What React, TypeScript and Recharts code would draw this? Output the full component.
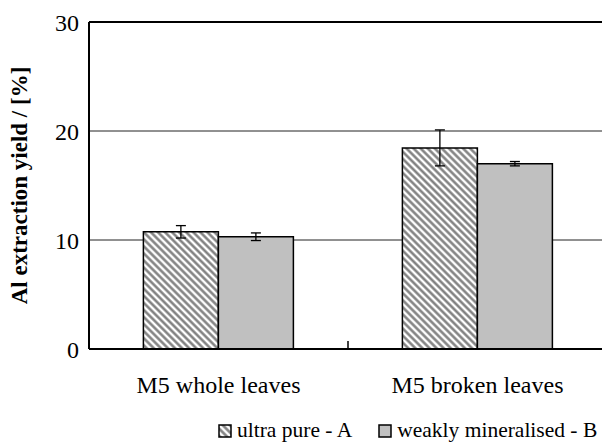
import { Bar, BarChart, CartesianGrid, ErrorBar, Legend, ReferenceLine, XAxis, YAxis } from "recharts";

const categories = ["M5 whole leaves", "M5 broken leaves"];
const ultraPure = [10.75, 18.45];
const ultraPureErr = [0.57, 1.65];
const weaklyMineralised = [10.3, 17.0];
const weaklyMineralisedErr = [0.35, 0.2];
const yTicks = [0, 10, 20, 30];
const seriesNames = ["ultra pure - A", "weakly mineralised - B"];

const FONT = '"Liberation Serif", "Times New Roman", serif';
const GREY = "#c0c0c0";
const LABEL_GAP = 27;

const data = categories.map((name, i) => ({
  name,
  a: ultraPure[i],
  aErr: ultraPureErr[i],
  b: weaklyMineralised[i],
  bErr: weaklyMineralisedErr[i],
}));

function HatchDef({ id }: { id: string }) {
  return (
    <pattern id={id} patternUnits="userSpaceOnUse" width={5} height={5} patternTransform="rotate(-45)">
      <rect width={5} height={5} fill="#fff" />
      <line x1={2.5} y1={0} x2={2.5} y2={5} stroke="#7a7a7a" strokeWidth={2.4} />
    </pattern>
  );
}

// category label, plus a short inner tick on the right edge of every group but the last
function CategoryTick(props: any) {
  const { x, y, payload, index } = props;
  const edge = typeof payload?.offset === "number" ? x + payload.offset : null;
  return (
    <g>
      {edge !== null && index < categories.length - 1 && (
        <line x1={edge} x2={edge} y1={y - LABEL_GAP} y2={y - LABEL_GAP - 8} stroke="#000" strokeWidth={1.5} />
      )}
      <text x={x} y={y} dy="0.71em" textAnchor="middle" fill="#000" fontSize={24} fontFamily={FONT}>
        {payload.value}
      </text>
    </g>
  );
}

function Key() {
  const box = (fill: string) => (
    <svg width={14} height={14} style={{ marginRight: 5 }}>
      <defs>
        <HatchDef id="hatch-key" />
      </defs>
      <rect x={1} y={1} width={12} height={12} fill={fill} stroke="#000" strokeWidth={1.5} />
    </svg>
  );
  return (
    <div style={{ display: "flex", alignItems: "center", fontFamily: FONT, fontSize: 21.5, color: "#000", whiteSpace: "nowrap" }}>
      <span style={{ display: "flex", alignItems: "center", marginRight: 26 }}>
        {box("url(#hatch-key)")}
        {seriesNames[0]}
      </span>
      <span style={{ display: "flex", alignItems: "center" }}>
        {box(GREY)}
        {seriesNames[1]}
      </span>
    </div>
  );
}

export default function App() {
  return (
    <div style={{ position: "absolute", left: 0, top: 0, width: 602, height: 443, overflow: "hidden", background: "#fff" }}>
      <BarChart
        width={607}
        height={443}
        data={data}
        margin={{ top: 22, right: 0, bottom: 93, left: 0 }}
        barCategoryGap="21%"
        barGap={0}
      >
        <defs>
          <HatchDef id="hatch" />
        </defs>
        <CartesianGrid vertical={false} stroke="#222" strokeWidth={1} />
        <ReferenceLine y={30} stroke="#000" strokeWidth={2} />
        <XAxis
          dataKey="name"
          height={1}
          tickLine={false}
          tickSize={0}
          tickMargin={LABEL_GAP}
          axisLine={{ stroke: "#000", strokeWidth: 2 }}
          tick={<CategoryTick />}
        />
        <YAxis
          width={89}
          domain={[0, 30]}
          ticks={yTicks}
          tickLine={false}
          tickSize={0}
          tickMargin={10}
          axisLine={{ stroke: "#000", strokeWidth: 2 }}
          tick={{ fill: "#000", fontSize: 24, fontFamily: FONT }}
          label={{
            value: "Al extraction yield / [%]",
            angle: -90,
            position: "center",
            dx: -26,
            style: { fill: "#000", fontSize: 23, fontWeight: "bold", fontFamily: FONT },
          }}
        />
        <Legend verticalAlign="middle" align="center" content={() => <Key />} wrapperStyle={{ top: 418, left: 218, width: "auto" }} />
        <Bar dataKey="a" name={seriesNames[0]} fill="url(#hatch)" stroke="#000" strokeWidth={1.5} isAnimationActive={false}>
          <ErrorBar dataKey="aErr" width={5} stroke="#000" strokeWidth={1.3} />
        </Bar>
        <Bar dataKey="b" name={seriesNames[1]} fill={GREY} stroke="#000" strokeWidth={1.5} isAnimationActive={false}>
          <ErrorBar dataKey="bErr" width={5} stroke="#000" strokeWidth={1.3} />
        </Bar>
      </BarChart>
    </div>
  );
}
